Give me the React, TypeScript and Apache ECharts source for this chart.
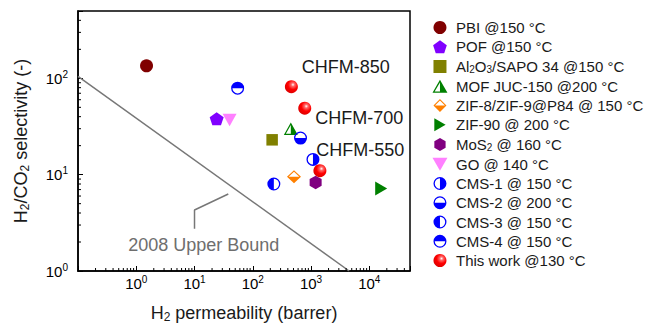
import React, { useEffect, useRef } from 'react';
import * as echarts from 'echarts';

// ---- data (x: H2 permeability / barrer, y: H2/CO2 selectivity) ----
const pbiData = [[1.5, 135]];
const pofData = [[24, 38]];
const al2o3Data = [[215, 23]];
const mofData = [[450, 30]];
const zif8Data = [[510, 9.5]];
const zif90Data = [[16000, 7.2]];
const mos2Data = [[1200, 8.3]];
const goData = [[40, 37]];
const cms1Data = [[1080, 14.4]];
const cms2Data = [[660, 24]];
const cms3Data = [[230, 8]];
const cms4Data = [[55, 79]];
const thisWorkData = [[460, 82], [780, 49], [1420, 11]];

const upperBoundData = [[0.1, 105], [4515, 1]];
const pointerData = [[38, 6.3], [10, 4.3], [10, 2.75]];
const chfmLabels = ['CHFM-850', 'CHFM-700', 'CHFM-550'];
const chfmLabelPos = [[3960, 131], [6720, 39.2], [7000, 17.9]];
const boundLabelText = '2008 Upper Bound';
const boundLabelPos = [14.4, 1.85];

const xRange = [0.1, 50000];
const yRange = [1, 500];
const xDecades = [-1, 0, 1, 2, 3, 4];
const yDecades = [0, 1, 2];
const minorMultipliers = [2, 3, 4, 5, 6, 7, 8, 9];

const seriesNames = [
  'PBI @150 °C',
  'POF @150 °C',
  'Al2O3/SAPO 34 @150 °C',
  'MOF JUC-150 @200 °C',
  'ZIF-8/ZIF-9@P84 @ 150 °C',
  'ZIF-90 @ 200 °C',
  'MoS2 @ 160 °C',
  'GO @ 140 °C',
  'CMS-1 @ 150 °C',
  'CMS-2 @ 200 °C',
  'CMS-3 @ 150 °C',
  'CMS-4 @ 150 °C',
  'This work @130 °C',
];

const legendRich: Record<string, string> = {
  'Al2O3/SAPO 34 @150 °C': 'Al{sub|2}O{sub|3}/SAPO 34 @150 °C',
  'MoS2 @ 160 °C': 'MoS{sub|2} @ 160 °C',
};

// ---- symbol shapes ----
const RING =
  'M0,50 A50,50 0 1 1 100,50 A50,50 0 1 1 0,50 Z ' +
  'M10,50 A40,40 0 1 0 90,50 A40,40 0 1 0 10,50 Z ';
const cmsRight = 'path://' + RING + 'M50,10 A40,40 0 0 1 50,90 Z';
const cmsBottom = 'path://' + RING + 'M90,50 A40,40 0 0 1 10,50 Z';
const cmsLeft = 'path://' + RING + 'M50,90 A40,40 0 0 1 50,10 Z';
const cmsTop = 'path://' + RING + 'M10,50 A40,40 0 0 1 90,50 Z';
const halfTriangle =
  'path://M50,0 L100,87 L0,87 Z M50,18 L14.5,78 L85.5,78 Z M50,18 L85.5,78 L50,78 Z';
const halfDiamond =
  'path://M50,0 L100,50 L50,100 L0,50 Z M50,12 L12,50 L50,88 L88,50 Z M88,50 L50,88 L12,50 Z';
const pentagon = 'path://M50,0 L97.6,34.5 L79.4,90.5 L20.6,90.5 L2.4,34.5 Z';
const hexagon = 'path://M50,0 L93.3,25 L93.3,75 L50,100 L6.7,75 L6.7,25 Z';
const square = 'path://M0,0 L100,0 L100,100 L0,100 Z';
const triDown = 'path://M0,0 L100,0 L50,87 Z';
const triRight = 'path://M0,0 L87,50 L0,100 Z';

const FONT = '"Liberation Sans", Arial, Helvetica, sans-serif';

function powLabel(v: number): string {
  const l = Math.log10(v);
  const e = Math.round(l);
  if (Math.abs(l - e) > 1e-6 || e < 0) return '';
  return `{b|10}{s|${e}}`;
}

function minorValues(decades: number[], range: number[]): number[] {
  const out: number[] = [];
  decades.forEach((d) =>
    minorMultipliers.forEach((m) => {
      const v = m * Math.pow(10, d);
      if (v > range[0] && v < range[1]) out.push(v);
    })
  );
  return out;
}

const tickRich = {
  b: { fontSize: 15, lineHeight: 18, fontFamily: FONT, color: '#000' },
  s: { fontSize: 10, lineHeight: 10, padding: [0, 0, 8, 0], fontFamily: FONT, color: '#000' },
};

export default function App() {
  const ref = useRef<HTMLDivElement>(null);
  useEffect(() => {
    if (!ref.current) return;
    const chart = echarts.init(ref.current, null, { renderer: 'svg' });

    const scatter = (name: string, data: number[][], symbol: string, size: any, color: any, extra: any = {}) => ({
      name,
      type: 'scatter',
      data,
      symbol,
      symbolSize: size,
      itemStyle: { color, opacity: 1 },
      z: 5,
      ...extra,
    });

    const sphere = new echarts.graphic.RadialGradient(0.62, 0.35, 0.75, [
      { offset: 0, color: '#ffffff' },
      { offset: 0.18, color: '#ff6a6a' },
      { offset: 0.5, color: '#ff0000' },
      { offset: 1, color: '#d40000' },
    ]);

    const minorX = minorValues(xDecades, xRange);
    const minorY = minorValues(yDecades, yRange);

    const option: any = {
      animation: false,
      textStyle: { fontFamily: FONT },
      grid: {
        left: 78,
        right: 237,
        top: 11,
        bottom: 53,
        show: true,
        borderColor: '#000',
        borderWidth: 1.5,
        backgroundColor: 'transparent',
        containLabel: false,
        outerBoundsMode: 'none',
      },
      legend: {
        data: seriesNames,
        orient: 'vertical',
        left: 427.5,
        top: 15,
        itemWidth: 22,
        itemHeight: 13,
        itemGap: 4.25,
        symbolKeepAspect: true,
        textStyle: {
          fontSize: 15,
          lineHeight: 15,
          color: '#1a1a1a',
          fontFamily: FONT,
          rich: {
            sub: { fontSize: 10, lineHeight: 9, padding: [6, 0, 0, 0], color: '#1a1a1a', fontFamily: FONT },
          },
        },
        formatter: (n: string) => legendRich[n] || n,
      },
      xAxis: {
        type: 'log',
        logBase: 10,
        min: xRange[0],
        max: xRange[1],
        name: 'H{sub|2} permeability (barrer)',
        nameLocation: 'middle',
        nameGap: 32,
        nameTextStyle: {
          fontSize: 18,
          lineHeight: 20,
          color: '#1a1a1a',
          fontFamily: FONT,
          rich: { sub: { fontSize: 12, lineHeight: 12, padding: [8, 0, 0, 0], color: '#1a1a1a', fontFamily: FONT } },
        },
        axisLine: { show: true, lineStyle: { color: '#000', width: 1.5 } },
        axisTick: { show: true, inside: true, length: 5, lineStyle: { color: '#000', width: 1 } },
        splitLine: { show: false },
        axisLabel: { margin: 3, formatter: powLabel, rich: tickRich },
      },
      yAxis: {
        type: 'log',
        logBase: 10,
        min: yRange[0],
        max: yRange[1],
        name: 'H{sub|2}/CO{sub|2} selectivity (-)',
        nameLocation: 'middle',
        nameGap: 47,
        nameTextStyle: {
          fontSize: 18,
          lineHeight: 20,
          color: '#1a1a1a',
          fontFamily: FONT,
          rich: { sub: { fontSize: 12, lineHeight: 12, padding: [8, 0, 0, 0], color: '#1a1a1a', fontFamily: FONT } },
        },
        axisLine: { show: true, lineStyle: { color: '#000', width: 1.5 } },
        axisTick: { show: true, inside: true, length: 5, lineStyle: { color: '#000', width: 1 } },
        splitLine: { show: false },
        axisLabel: { margin: 10, formatter: powLabel, rich: tickRich },
      },
      series: [
        {
          name: 'minorX',
          type: 'custom',
          data: minorX.map((v) => [v, yRange[0]]),
          silent: true,
          clip: false,
          z: 3,
          renderItem: (params: any, api: any) => {
            const p = api.coord([api.value(0), api.value(1)]);
            return {
              type: 'line',
              shape: { x1: p[0], y1: p[1], x2: p[0], y2: p[1] - 3 },
              style: { stroke: '#000', lineWidth: 1 },
            };
          },
        },
        {
          name: 'minorY',
          type: 'custom',
          data: minorY.map((v) => [xRange[0], v]),
          silent: true,
          clip: false,
          z: 3,
          renderItem: (params: any, api: any) => {
            const p = api.coord([api.value(0), api.value(1)]);
            return {
              type: 'line',
              shape: { x1: p[0], y1: p[1], x2: p[0] + 3, y2: p[1] },
              style: { stroke: '#000', lineWidth: 1 },
            };
          },
        },
        {
          name: 'upper',
          type: 'line',
          data: upperBoundData,
          symbol: 'none',
          lineStyle: { color: '#777', width: 1.5 },
          silent: true,
          z: 2,
        },
        {
          name: 'pointer',
          type: 'line',
          data: pointerData,
          symbol: 'none',
          lineStyle: { color: '#777', width: 1.5 },
          silent: true,
          z: 2,
        },
        scatter(seriesNames[0], pbiData, 'circle', 13, '#800000'),
        scatter(seriesNames[1], pofData, pentagon, [14, 13], '#8000ff'),
        scatter(seriesNames[2], al2o3Data, square, [11.5, 11.5], '#808000'),
        scatter(seriesNames[3], mofData, halfTriangle, [14, 12.5], '#008000'),
        scatter(seriesNames[4], zif8Data, halfDiamond, [14, 13], '#ff8000'),
        scatter(seriesNames[5], zif90Data, triRight, [12, 14], '#008000'),
        scatter(seriesNames[6], mos2Data, hexagon, [12, 13.5], '#800080'),
        scatter(seriesNames[7], goData, triDown, [14, 12.5], '#ff80ff'),
        scatter(seriesNames[8], cms1Data, cmsRight, 13, '#0000ff'),
        scatter(seriesNames[9], cms2Data, cmsBottom, 13, '#0000ff'),
        scatter(seriesNames[10], cms3Data, cmsLeft, 13, '#0000ff'),
        scatter(seriesNames[11], cms4Data, cmsTop, 13, '#0000ff'),
        scatter(seriesNames[12], thisWorkData, 'circle', 13, sphere, { z: 6 }),
      ],
    };
    chart.setOption(option);

    // text annotations placed through the axes' own scales
    const texts: any[] = chfmLabels.map((t, i) => {
      const p = chart.convertToPixel({ gridIndex: 0 }, chfmLabelPos[i]) as number[];
      return {
        type: 'text',
        x: p[0],
        y: p[1],
        z: 10,
        style: {
          text: t,
          fill: '#1a1a1a',
          fontSize: 18,
          fontFamily: FONT,
          align: 'center',
          verticalAlign: 'middle',
        },
      };
    });
    const bp = chart.convertToPixel({ gridIndex: 0 }, boundLabelPos) as number[];
    texts.push({
      type: 'text',
      x: bp[0],
      y: bp[1],
      z: 10,
      style: {
        text: boundLabelText,
        fill: '#6e6e6e',
        fontSize: 18,
        fontFamily: FONT,
        align: 'center',
        verticalAlign: 'middle',
      },
    });
    chart.setOption({ graphic: texts });

    return () => chart.dispose();
  }, []);

  return (
    <div
      ref={ref}
      style={{ position: 'absolute', left: 0, top: 0, width: 647, height: 324, background: '#fff' }}
    />
  );
}
